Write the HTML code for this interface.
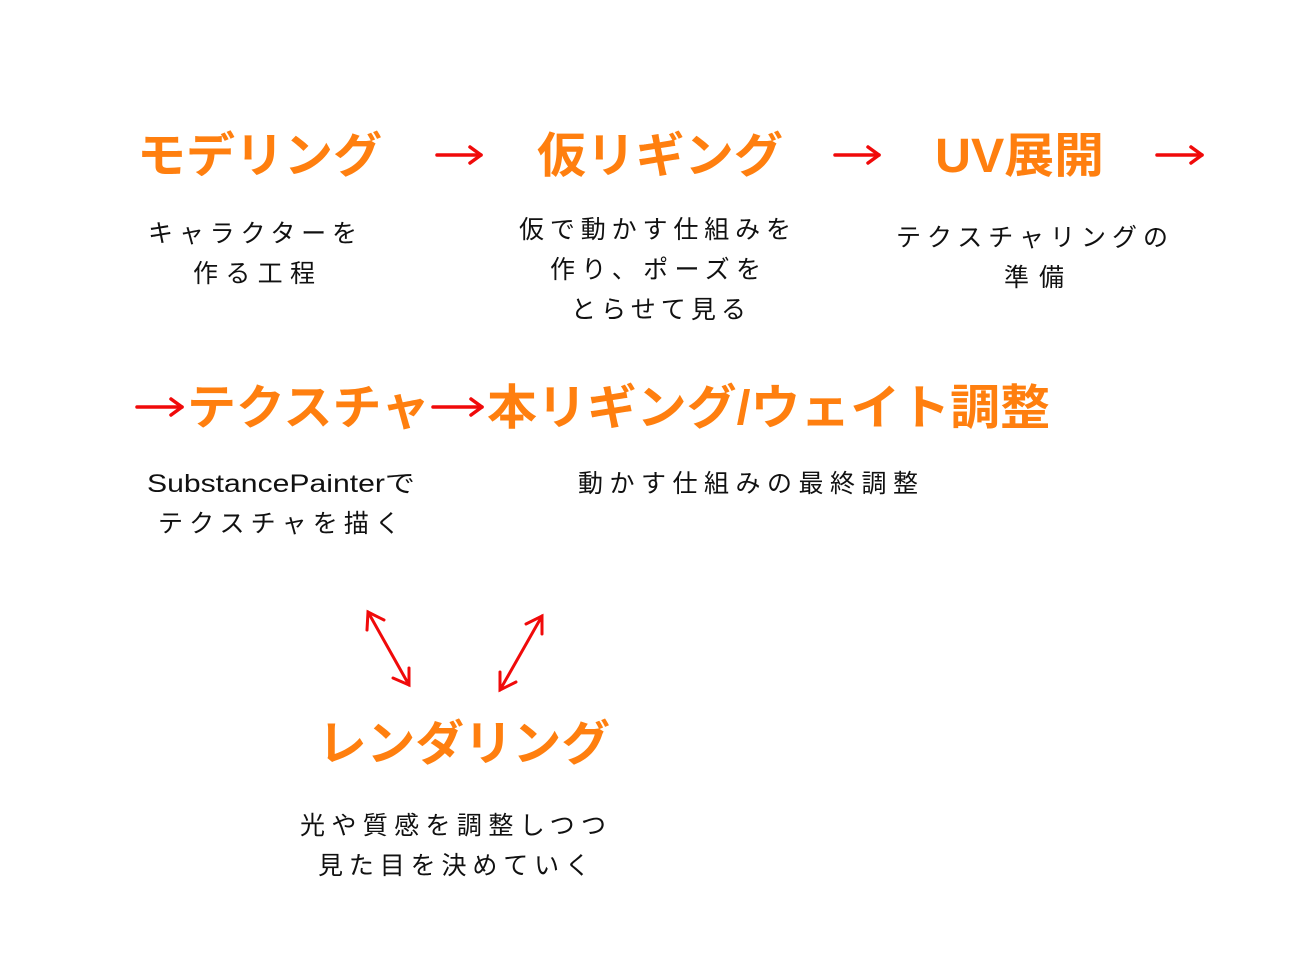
<!DOCTYPE html>
<html><head><meta charset="utf-8"><style>
body{margin:0;width:1312px;height:969px;background:#fff;position:relative;overflow:hidden}
svg text{font-family:"Liberation Sans","Noto Sans CJK JP",sans-serif}
.t{fill:#ff7f0f;font-weight:bold;font-size:48px}
.d{fill:#111;font-size:25px}
</style></head><body>
<svg width="1312" height="969" style="position:absolute;left:0;top:0">
<text class="t" x="137" y="172" textLength="245" lengthAdjust="spacingAndGlyphs">モデリング</text>
<text class="t" x="537" y="172" textLength="246" lengthAdjust="spacingAndGlyphs">仮リギング</text>
<text class="t" x="935" y="172" textLength="169" lengthAdjust="spacingAndGlyphs">UV展開</text>
<text class="t" x="187" y="424" textLength="243" lengthAdjust="spacingAndGlyphs">テクスチャ</text>
<text class="t" x="487" y="424" textLength="563" lengthAdjust="spacingAndGlyphs">本リギング/ウェイト調整</text>
<text class="t" x="318" y="760" textLength="292" lengthAdjust="spacingAndGlyphs">レンダリング</text>

<text class="d" x="148" y="242" textLength="209" lengthAdjust="spacing">キャラクターを</text>
<text class="d" x="193" y="282" textLength="122" lengthAdjust="spacing">作る工程</text>
<text class="d" x="519" y="238" textLength="272" lengthAdjust="spacing">仮で動かす仕組みを</text>
<text class="d" x="550" y="278" textLength="211" lengthAdjust="spacing">作り、ポーズを</text>
<text class="d" x="571" y="318" textLength="175" lengthAdjust="spacing">とらせて見る</text>
<text class="d" x="896" y="246" textLength="272" lengthAdjust="spacing">テクスチャリングの</text>
<text class="d" x="1004" y="286" textLength="60" lengthAdjust="spacing">準備</text>
<text class="d" x="147" y="492" textLength="268" lengthAdjust="spacingAndGlyphs">SubstancePainterで</text>
<text class="d" x="158" y="532" textLength="242" lengthAdjust="spacing">テクスチャを描く</text>
<text class="d" x="578" y="492" textLength="340" lengthAdjust="spacing">動かす仕組みの最終調整</text>
<text class="d" x="300" y="834" textLength="306" lengthAdjust="spacing">光や質感を調整しつつ</text>
<text class="d" x="318" y="874" textLength="272" lengthAdjust="spacing">見た目を決めていく</text>

<g stroke="#f00a0a" stroke-width="3.5" fill="none" stroke-linecap="round" stroke-linejoin="round">
<line x1="437" y1="155" x2="481" y2="155"/><polyline points="470,147 481,155 470,163"/>
<line x1="835" y1="155" x2="879" y2="155"/><polyline points="868,147 879,155 868,163"/>
<line x1="1157" y1="155" x2="1202" y2="155"/><polyline points="1191,147 1202,155 1191,163"/>
<line x1="137" y1="407" x2="182" y2="407"/><polyline points="171,399 182,407 171,415"/>
<line x1="433" y1="407" x2="482" y2="407"/><polyline points="471,399 482,407 471,415"/>
</g>
<g stroke="#f00a0a" stroke-width="3" fill="none" stroke-linecap="round">
<line x1="368" y1="612" x2="409" y2="685"/>
<polyline points="367,630 368,612 384,620"/>
<polyline points="393,678 409,685 409,668"/>
<line x1="542" y1="616" x2="500" y2="690"/>
<polyline points="526,624 542,616 542,634"/>
<polyline points="500,672 500,690 516,682"/>
</g></svg>
</body></html>
